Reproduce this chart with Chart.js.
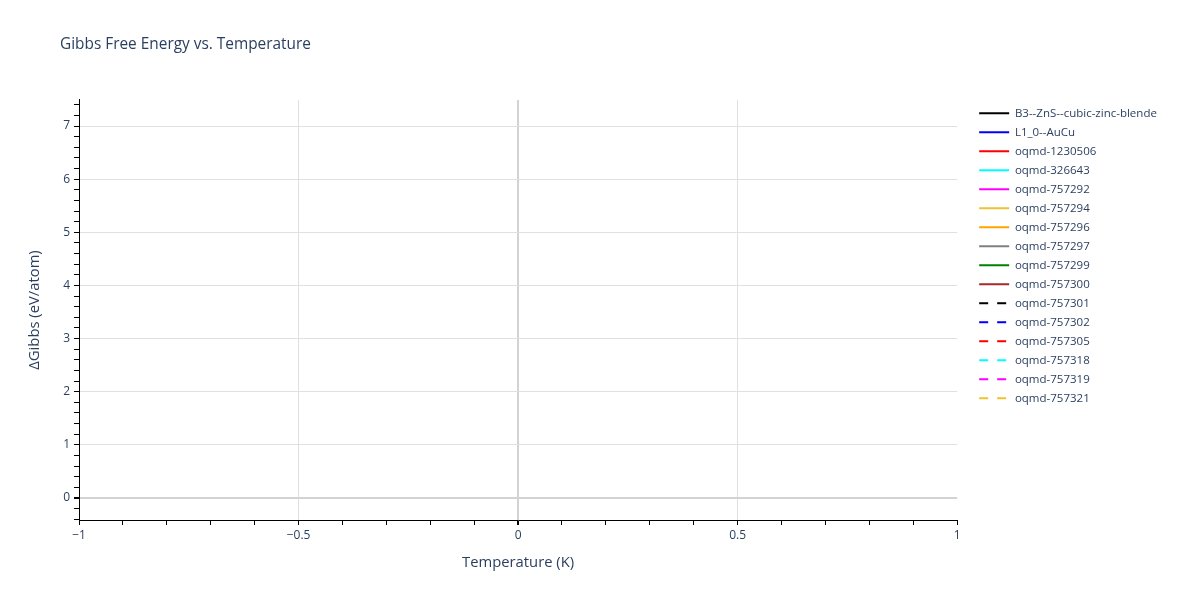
<!DOCTYPE html>
<html>
<head>
<meta charset="UTF-8">
<title>Gibbs Free Energy vs. Temperature</title>
<style>
	body { margin: 0; background: #fff; }
</style>
</head>
<body>
	<script src="https://cdn.jsdelivr.net/npm/chart.js"></script>

	<canvas id="gibbsChart" width="1200" height="600"></canvas>

	<script>
		// series shown in the legend (no visible points in the plot)
		const seriesNames = [
			'B3--ZnS--cubic-zinc-blende', 'L1_0--AuCu', 'oqmd-1230506', 'oqmd-326643',
			'oqmd-757292', 'oqmd-757294', 'oqmd-757296', 'oqmd-757297',
			'oqmd-757299', 'oqmd-757300', 'oqmd-757301', 'oqmd-757302',
			'oqmd-757305', 'oqmd-757318', 'oqmd-757319', 'oqmd-757321'
		];
		const temperatures = [];
		const gibbsValues = [[], [], [], [], [], [], [], [], [], [], [], [], [], [], [], []];

		// axis tick labels
		const xTickValues = [-1, -0.5, 0, 0.5, 1];
		const xTickLabels = ['\u22121', '\u22120.5', '0', '0.5', '1'];
		const yTickValues = [0, 1, 2, 3, 4, 5, 6, 7];
		const yTickLabels = ['0', '1', '2', '3', '4', '5', '6', '7'];

		// line styles
		const lineColors = [
			'#000000', '#0000ff', '#ff0000', '#00ffff', '#ff00ff', '#eec232', '#ffa500', '#808080',
			'#008000', '#a52a2a', '#000000', '#0000ff', '#ff0000', '#00ffff', '#ff00ff', '#eec232'
		];
		const dashed = [false, false, false, false, false, false, false, false,
			false, false, true, true, true, true, true, true];

		const textColor = '#2a3f5f';
		const gridColor = '#e0e0e0';
		const zeroColor = '#d3d3d3';

		Chart.defaults.font.family = '"Open Sans", verdana, arial, sans-serif';
		Chart.defaults.color = textColor;

		const datasets = seriesNames.map(function(name, i){
			return {
				label: name,
				data: temperatures.map(function(t, j){ return {x: t, y: gibbsValues[i][j]}; }),
				borderColor: lineColors[i],
				backgroundColor: lineColors[i],
				borderWidth: 2,
				borderDash: dashed[i] ? [9, 9] : [],
				pointRadius: 0
			};
		});

		function findLabel(values, labels, v){
			for (let i = 0; i < values.length; i++) {
				if (Math.abs(values[i] - v) < 1e-9) return labels[i];
			}
			return '';
		}

		function isMajor(values, v){
			return findLabel(values, values.map(String), v) !== '';
		}

		const ctx = document.getElementById('gibbsChart').getContext('2d');

		new Chart(ctx, {
			type: 'line',
			data: { datasets: datasets },
			options: {
				responsive: false,
				animation: false,
				devicePixelRatio: 1,
				layout: { padding: { left: 0, right: 34, top: 0, bottom: 0 } },
				scales: {
					x: {
						type: 'linear',
						min: -1,
						max: 1,
						afterBuildTicks: function(scale){
							// minor ticks every 0.1
							const t = [];
							for (let i = -10; i <= 10; i++) t.push({ value: i / 10 });
							scale.ticks = t;
						},
						afterFit: function(scale){ scale.height = 80; },
						ticks: {
							autoSkip: false,
							maxRotation: 0,
							padding: 3,
							font: { size: 12 },
							callback: function(v){ return findLabel(xTickValues, xTickLabels, v); }
						},
						grid: {
							tickLength: 5,
							tickColor: '#000',
							color: function(c){
								const v = c.tick.value;
								if (Math.abs(v) < 1e-9) return zeroColor;
								if (Math.abs(Math.abs(v) - 1) < 1e-9) return 'rgba(0,0,0,0)';
								return isMajor(xTickValues, v) ? gridColor : 'rgba(0,0,0,0)';
							},
							lineWidth: function(c){ return Math.abs(c.tick.value) < 1e-9 ? 2 : 1; }
						},
						border: { color: '#000', width: 1 },
						title: {
							display: true,
							text: 'Temperature (K)',
							font: { size: 14.8 },
							padding: { top: 0, bottom: 28 }
						}
					},
					y: {
						type: 'linear',
						min: -0.414,
						max: 7.49,
						afterBuildTicks: function(scale){
							// minor ticks every 0.2
							const t = [];
							for (let i = -2; i <= 37; i++) t.push({ value: i / 5 });
							scale.ticks = t;
						},
						afterFit: function(scale){ scale.width = 79; },
						ticks: {
							autoSkip: false,
							padding: 4,
							font: { size: 12 },
							callback: function(v){ return findLabel(yTickValues, yTickLabels, v); }
						},
						grid: {
							tickLength: 5,
							tickColor: '#000',
							color: function(c){
								const v = c.tick.value;
								if (Math.abs(v) < 1e-9) return zeroColor;
								return isMajor(yTickValues, v) ? gridColor : 'rgba(0,0,0,0)';
							},
							lineWidth: function(c){ return Math.abs(c.tick.value) < 1e-9 ? 2 : 1; }
						},
						border: { color: '#000', width: 1 },
						title: {
							display: true,
							text: '\u0394Gibbs (eV/atom)',
							font: { size: 14.8 },
							padding: { top: 26, bottom: 0 }
						}
					},
					// empty axis, only leaves a gap between plot and legend
					gap: {
						type: 'linear',
						position: 'right',
						grid: { display: false },
						border: { display: false },
						ticks: { display: false },
						afterFit: function(scale){ scale.width = 14.5; }
					}
				},
				plugins: {
					title: {
						display: true,
						text: 'Gibbs Free Energy vs. Temperature',
						align: 'start',
						color: textColor,
						font: { size: 15.4, weight: 'normal' },
						padding: { top: 35.5, bottom: 46 }
					},
					legend: {
						position: 'right',
						align: 'start',
						fullSize: false,
						labels: {
							usePointStyle: true,
							pointStyle: 'line',
							pointStyleWidth: 30,
							padding: 7.5,
							color: textColor,
							font: { size: 11.5 },
							generateLabels: function(chart){
								// take width and dash from the dataset line, not the point
								const items = Chart.defaults.plugins.legend.labels.generateLabels(chart);
								items.forEach(function(item){
									const ds = chart.data.datasets[item.datasetIndex];
									item.lineWidth = ds.borderWidth;
									item.lineDash = ds.borderDash;
									item.strokeStyle = ds.borderColor;
								});
								return items;
							}
						}
					},
					tooltip: { enabled: false }
				}
			},
			plugins: [{
				id: 'titleShift',
				afterLayout: function(chart){
					chart.titleBlock.left = 60;
				}
			}]
		});
	</script>
</body>
</html>
